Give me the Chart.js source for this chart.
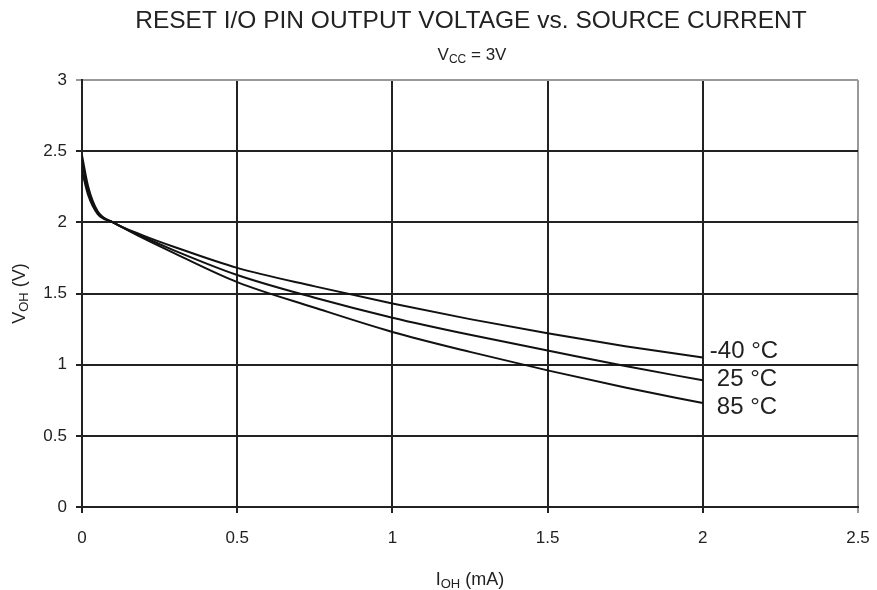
<!DOCTYPE html>
<html>
<head>
<meta charset="utf-8">
<script src="https://cdn.jsdelivr.net/npm/chart.js@4.4.0/dist/chart.umd.min.js"></script>
<style>
  html, body { margin: 0; padding: 0; background: #fff; }
  #wrap { width: 877px; height: 590px; position: relative; }
</style>
</head>
<body>
<div id="wrap"><canvas id="mainChart"></canvas></div>
<script>
// Source current, mA
const currentMA = [0, 0.02, 0.05, 0.1, 0.2, 0.3, 0.5, 0.75, 1, 1.25, 1.5, 1.75, 2];

// Output voltage (V) per temperature
const voh_m40 = [2.47, 2.25, 2.08, 2.00, 1.905, 1.825, 1.68, 1.55, 1.43, 1.32, 1.22, 1.13, 1.05];
const voh_25  = [2.42, 2.22, 2.07, 2.00, 1.895, 1.80, 1.63, 1.47, 1.33, 1.21, 1.10, 0.99, 0.89];
const voh_85  = [2.36, 2.19, 2.06, 2.00, 1.885, 1.78, 1.58, 1.40, 1.23, 1.09, 0.96, 0.84, 0.73];

const seriesNames = ['-40 °C', '25 °C', '85 °C'];
const xTicks = [0, 0.5, 1, 1.5, 2, 2.5];
const yTicks = [0, 0.5, 1, 1.5, 2, 2.5, 3];

const FONT = "'Liberation Sans', Arial, sans-serif";
const INK = '#222';

const toPoints = (ys) => ys.map((y, i) => ({ x: currentMA[i], y: y }));

// draws "base" + subscript + rest, centred on cx
function subText(ctx, cx, cy, base, sub, rest, size) {
    const subSize = Math.round(size * 0.72);
    ctx.font = size + 'px ' + FONT;
    const wb = ctx.measureText(base).width;
    const wr = ctx.measureText(rest).width;
    ctx.font = subSize + 'px ' + FONT;
    const ws = ctx.measureText(sub).width;
    let x = cx - (wb + ws + wr) / 2;
    ctx.textAlign = 'left';
    ctx.textBaseline = 'middle';
    ctx.font = size + 'px ' + FONT;
    ctx.fillText(base, x, cy);
    x += wb;
    ctx.font = subSize + 'px ' + FONT;
    ctx.fillText(sub, x, cy + size * 0.25);
    x += ws;
    ctx.font = size + 'px ' + FONT;
    ctx.fillText(rest, x, cy);
}

const textPlugin = {
    id: 'textPlugin',
    afterDraw(chart) {
        const ctx = chart.ctx;
        const area = chart.chartArea;
        const xs = chart.scales.x;
        const ys = chart.scales.y;
        ctx.save();
        ctx.fillStyle = INK;

        // main title
        ctx.font = '24.5px ' + FONT;
        ctx.textAlign = 'center';
        ctx.textBaseline = 'middle';
        ctx.fillText('RESET I/O PIN OUTPUT VOLTAGE vs. SOURCE CURRENT', 471, 21);

        // subtitle
        subText(ctx, 472, 55, 'V', 'CC', ' = 3V', 17);

        // x axis title
        subText(ctx, (area.left + area.right) / 2, 580, 'I', 'OH', ' (mA)', 18);

        // y axis title
        ctx.save();
        ctx.translate(20, (area.top + area.bottom) / 2);
        ctx.rotate(-Math.PI / 2);
        subText(ctx, 0, 0, 'V', 'OH', ' (V)', 18);
        ctx.restore();

        // curve labels, placed just right of the end of each curve
        const labelY = [1.09, 0.9, 0.7];
        ctx.font = '24px ' + FONT;
        ctx.textAlign = 'left';
        ctx.textBaseline = 'middle';
        const endX = xs.getPixelForValue(currentMA[currentMA.length - 1]);
        seriesNames.forEach((name, i) => {
            const dx = name.startsWith('-') ? 7 : 14;
            ctx.fillText(name, endX + dx, ys.getPixelForValue(labelY[i]));
        });
        ctx.restore();
    }
};

const lineStyle = {
    borderColor: '#111',
    borderWidth: 2,
    pointRadius: 0,
    fill: false,
    cubicInterpolationMode: 'monotone'
};

new Chart(document.getElementById('mainChart'), {
    type: 'line',
    data: {
        datasets: [
            { label: seriesNames[0], data: toPoints(voh_m40), ...lineStyle },
            { label: seriesNames[1], data: toPoints(voh_25), ...lineStyle },
            { label: seriesNames[2], data: toPoints(voh_85), ...lineStyle }
        ]
    },
    options: {
        responsive: true,
        maintainAspectRatio: false,
        animation: false,
        layout: { padding: { top: 80, right: 19, left: 0, bottom: 0 } },
        plugins: {
            legend: { display: false },
            tooltip: { enabled: false }
        },
        scales: {
            x: {
                type: 'linear',
                min: 0,
                max: 2.5,
                afterBuildTicks: (s) => { s.ticks = xTicks.map(v => ({ value: v })); },
                afterFit: (s) => { s.height = 83; s.paddingLeft = 0; s.paddingRight = 0; },
                border: { display: true, color: INK, width: 2 },
                grid: {
                    color: (c) => c.tick && c.tick.value === 2.5 ? '#999' : INK,
                    lineWidth: 2,
                    tickLength: 6
                },
                ticks: {
                    color: INK,
                    padding: 15,
                    maxRotation: 0,
                    font: { family: FONT, size: 17 },
                    callback: (v) => String(v)
                }
            },
            y: {
                min: 0,
                max: 3,
                afterBuildTicks: (s) => { s.ticks = yTicks.map(v => ({ value: v })); },
                afterFit: (s) => { s.width = 82; s.paddingTop = 0; s.paddingBottom = 0; },
                border: { display: true, color: INK, width: 2 },
                grid: {
                    color: (c) => c.tick && c.tick.value === 3 ? '#999' : INK,
                    lineWidth: 2,
                    tickLength: 6
                },
                ticks: {
                    color: INK,
                    padding: 9,
                    font: { family: FONT, size: 17 },
                    callback: (v) => String(v)
                }
            }
        }
    },
    plugins: [textPlugin]
});
</script>
</body>
</html>
